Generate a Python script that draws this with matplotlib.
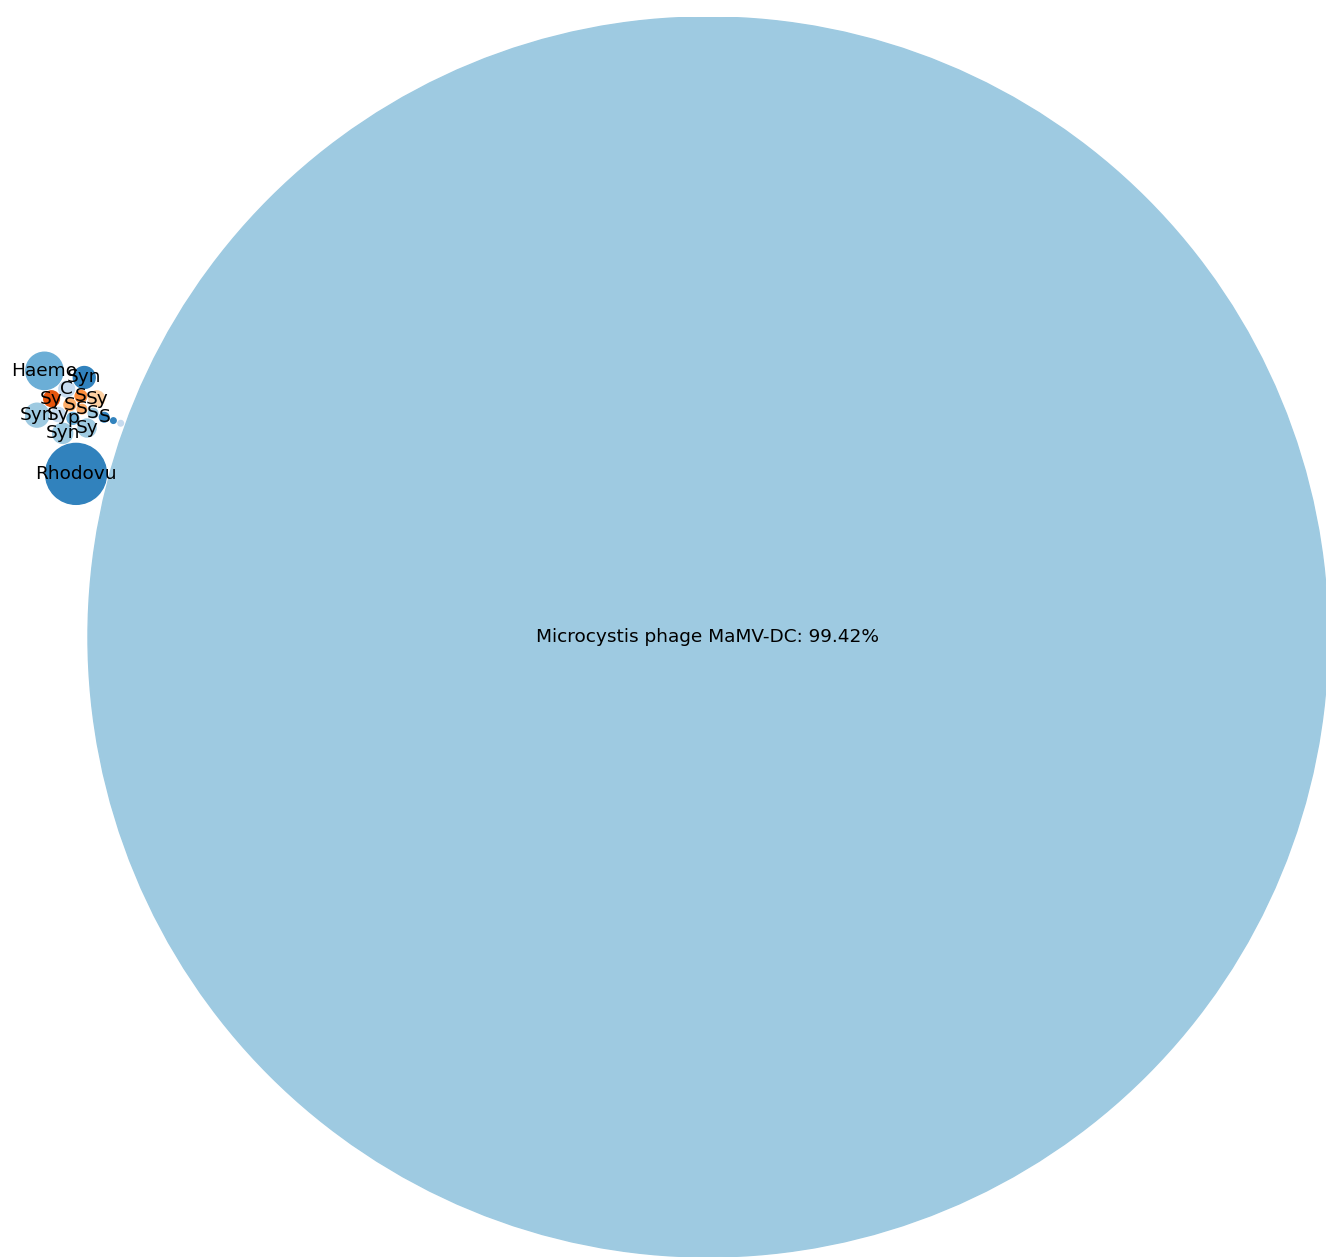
import numpy as np
import matplotlib
matplotlib.use("Agg")
import matplotlib.pyplot as plt
from itertools import combinations

# Phage abundance (percent of reads); short names are the labels shown on the bubbles
labels = ["Rhodovu", "Haemo", "Syn", "Syn", "Syn", "Sy", "C", "Sy", "Sy", "Sy",
          "S", "S", "S", "p", "S", "S", "", "", "Microcystis phage MaMV-DC"]
shares = [0.24, 0.09, 0.037, 0.031, 0.026, 0.021, 0.016, 0.016, 0.016, 0.013,
          0.009, 0.009, 0.006, 0.009, 0.006, 0.006, 0.002, 0.002, 99.42]
colors = ["#3182bd", "#6baed6", "#9ecae1", "#3182bd", "#9ecae1", "#9ecae1", "#c6dbef",
          "#e6550d", "#fdd0a2", "#c6dbef", "#fdae6b", "#fd8d3c", "#3182bd", "#6baed6",
          "#9ecae1", "#fdae6b", "#c6dbef", "#3182bd", "#9ecae1"]


def circle_intersections(p1, r1, p2, r2):
    d = np.hypot(*(p2 - p1))
    if d == 0 or d > r1 + r2 or d < abs(r1 - r2):
        return []
    a = (r1 ** 2 - r2 ** 2 + d ** 2) / (2 * d)
    h = np.sqrt(max(r1 ** 2 - a ** 2, 0.0))
    u = (p2 - p1) / d
    mid = p1 + a * u
    perp = np.array([-u[1], u[0]])
    return [mid + h * perp, mid - h * perp]


def pack_bubbles(area, gap=0.02, angle_deg=160.0, offset=0.5):
    """Greedy front packing: the largest bubble sits at the origin, the rest
    are laid tangent to already placed bubbles as close as possible to a
    gathering point just outside the largest one."""
    r = np.sqrt(np.asarray(area, dtype=float) / np.pi)
    n = len(r)
    hub = int(np.argmax(r))
    rest = [i for i in np.argsort(r, kind="stable") if i != hub]
    xy = np.zeros((n, 2))
    placed = [hub]
    ang = np.deg2rad(angle_deg)
    target = np.array([np.cos(ang), np.sin(ang)]) * (r[hub] + offset)
    for i in rest:
        cands = []
        for j in placed:
            d = target - xy[j]
            d = d / np.hypot(*d)
            cands.append(xy[j] + d * (r[j] + r[i] + gap))
        for j, k in combinations(placed, 2):
            cands.extend(circle_intersections(xy[j], r[j] + r[i] + gap,
                                              xy[k], r[k] + r[i] + gap))
        best, best_d = None, np.inf
        for c in cands:
            ok = all(np.hypot(*(c - xy[m])) >= r[m] + r[i] + gap - 1e-9 for m in placed)
            if ok:
                dist = np.hypot(*(c - target))
                if dist < best_d:
                    best, best_d = c, dist
        xy[i] = best
        placed.append(i)
    return xy, r


xy, radii = pack_bubbles(shares)
hub = int(np.argmax(radii))

fig = plt.figure(figsize=(13.26, 12.59), dpi=100)
ax = fig.add_axes([25 / 1326, 0, 1303 / 1326, 1244 / 1259])
for i in range(len(shares)):
    ax.add_patch(plt.Circle(xy[i], radii[i], color=colors[i]))
    text = f"{labels[i]}: {shares[i]:.2f}%" if i == hub else labels[i]
    ax.text(xy[i, 0], xy[i, 1], text, ha="center", va="center",
            fontsize=13.3, color="black")

xmin = (xy[:, 0] - radii).min()
xmax = (xy[:, 0] + radii).max()
ymin = (xy[:, 1] - radii).min()
ymax = (xy[:, 1] + radii).max()
ax.set_xlim(xmin, xmax)
ax.set_ylim(ymin, ymax)
ax.set_aspect("equal", adjustable="box", anchor="C")
ax.axis("off")

fig.savefig("out.png", dpi=100, facecolor="white")
